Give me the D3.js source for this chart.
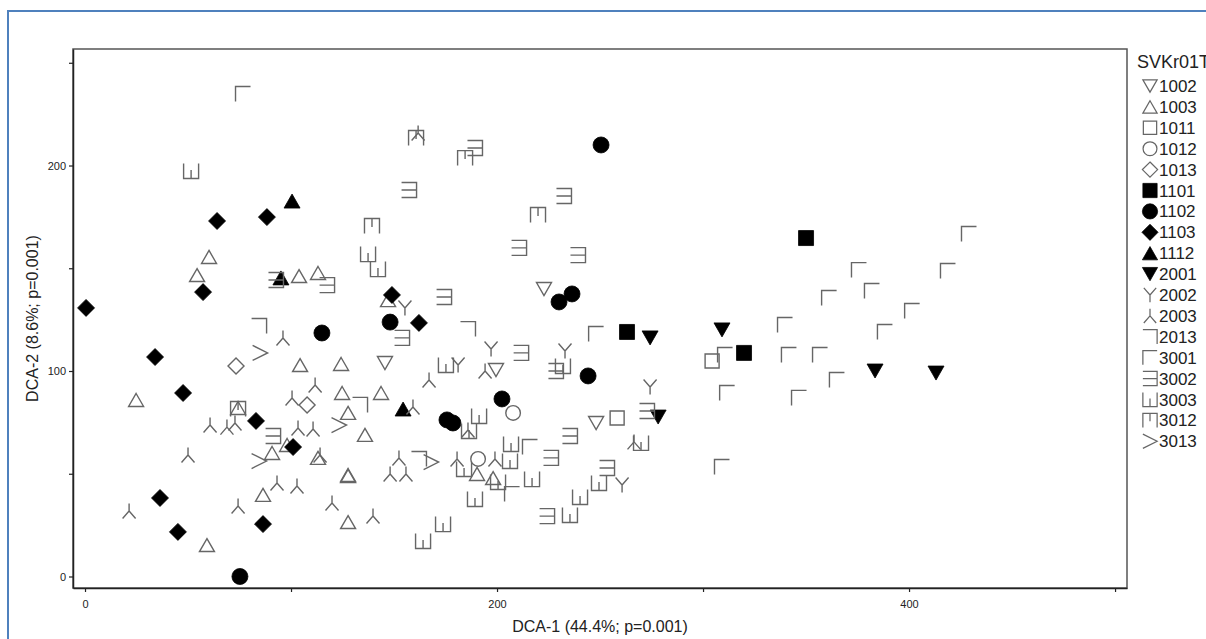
<!DOCTYPE html>
<html>
<head>
<meta charset="utf-8">
<script src="https://cdn.jsdelivr.net/npm/d3@7"></script>
<style>
  body { margin: 0; background: #fff; }
  svg { display: block; font-family: "Liberation Sans", Arial, sans-serif; }
</style>
</head>
<body>
<div id="chart"></div>
<script>
// group codes, in legend order
const groups = ["1002","1003","1011","1012","1013","1101","1102","1103","1112",
                "2001","2002","2003","2013","3001","3002","3003","3012","3013"];

// site scores [DCA-1, DCA-2] for each group
const g1002 = [[222.8,139.9],[145.6,103.9],[199.5,100.5],[248.1,74.7]];
const g1003 = [[60.2,155.5],[54.4,146.7],[103.9,146.2],[113.1,147.7],[147.1,134.5],[104.4,102.9],
               [124.3,103.4],[24.8,85.9],[124.8,89.3],[143.7,89.3],[74.3,82.0],[127.7,79.6],
               [135.9,68.9],[90.8,60.1],[98.1,64.0],[113.1,57.7],[190.3,49.9],[198.1,47.9],
               [127.7,49.4],[127.7,48.9],[86.4,39.7],[59.2,15.3],[127.7,26.5]];
const g1011 = [[258.3,77.1],[304.4,104.9]];
const g1012 = [[207.8,79.6],[190.8,57.2]];
const g1013 = [[73.3,102.4],[107.8,83.5]];
const g1101 = [[350.0,164.7],[263.1,119.0],[319.9,108.8]];
const g1102 = [[250.5,210.0],[148.1,123.8],[230.1,133.6],[236.4,137.5],[244.2,97.6],[202.4,86.4],
               [175.7,76.2],[178.6,74.7],[75.2,0],[115.0,118.5]];
const g1103 = [[64.1,173.0],[88.3,174.9],[57.3,138.4],[0.5,130.7],[34.0,106.8],[149.0,137.0],
               [162.1,123.4],[47.6,89.3],[83.0,75.7],[101.0,63.0],[36.4,38.2],[86.4,25.5],[45.1,21.7]];
const g1112 = [[100.5,182.7],[95.1,145.3],[154.4,81.5]];
const g2001 = [[274.3,116.1],[309.2,120.0],[278.2,77.6],[383.5,100.0],[413.1,99.0]];
const g2002 = [[155.3,130.7],[197.1,110.7],[233.0,109.7],[181.1,102.9],[274.3,92.2],[260.7,44.5]];
const g2003 = [[161.7,215.8],[96.1,116.1],[111.7,93.2],[100.5,86.9],[194.2,100.0],[167.0,95.6],
               [60.7,73.7],[68.9,72.7],[72.8,74.7],[103.4,72.3],[110.7,71.8],[50.0,59.1],
               [114.1,59.1],[93.2,45.5],[102.9,44.0],[21.4,31.9],[74.3,34.3],[119.9,35.8],
               [152.4,57.7],[148.1,49.9],[155.8,49.9],[180.6,57.2],[185.9,71.3],[199.0,57.2],
               [139.8,29.4],[266.5,65.5],[159.2,82.5]];
const g2013 = [[84.5,121.9],[185.9,120.4],[133.5,83.5],[162.1,57.2]];
const g3001 = [[76.7,234.8],[248.1,118.0],[311.7,89.3],[346.6,86.9],[309.2,53.3],[429.1,166.7],
               [375.7,149.1],[418.9,148.7],[382.0,138.9],[361.2,135.5],[401.5,129.2],[339.8,122.4],
               [388.3,119.0],[310.7,107.8],[341.7,107.8],[356.8,107.8],[365.0,95.6],[216.0,63.0],
               [207.3,40.1]];
const g3002 = [[189.3,208.5],[157.3,188.1],[232.5,185.2],[210.7,159.9],[239.3,156.4],[174.3,136.0],
               [153.9,116.1],[117.5,141.8],[92.7,144.3],[211.7,108.8],[228.6,100.0],[91.3,68.4],
               [272.8,80.5],[235.4,68.4],[226.2,57.7],[253.4,52.8],[224.3,29.4]];
const g3003 = [[51.5,197.3],[137.4,156.9],[142.2,149.6],[175.2,102.9],[232.0,102.4],[269.9,65.0],
               [191.3,78.1],[186.4,70.8],[206.8,64.5],[184.0,52.3],[206.3,56.2],[200.5,46.0],
               [217.0,47.4],[189.3,37.7],[249.5,45.5],[240.3,38.7],[235.4,29.9],[173.8,25.5],[164.1,17.3]];
const g3012 = [[160.7,213.4],[184.5,203.6],[219.9,175.9],[139.3,170.6],[74.3,81.5]];
const g3013 = [[85.0,108.8],[84.5,56.2],[123.3,73.7],[168.0,55.7]];

const seriesValues = [g1002,g1003,g1011,g1012,g1013,g1101,g1102,g1103,g1112,
                      g2001,g2002,g2003,g2013,g3001,g3002,g3003,g3012,g3013];

const xTicks = [0,100,200,300,400,500];
const yTicks = [0,50,100,150,200,250];
const xLabelled = [0,200,400];
const yLabelled = [0,100,200];
const xTitle = "DCA-1 (44.4%; p=0.001)";
const yTitle = "DCA-2 (8.6%; p=0.001)";
const legendTitle = "SVKr01T";

// marker shapes (h = half size)
const h = 7.5;
const shapes = {
  "1002": {d: `M${-h},${-6.5}L${h},${-6.5}L0,6.5Z`, fill: false},
  "1003": {d: `M0,${-6.5}L${h},6.5L${-h},6.5Z`, fill: false},
  "1011": {d: `M-7,-7H7V7H-7Z`, fill: false},
  "1012": {d: d3.symbol(d3.symbolCircle, Math.PI*7.3*7.3)(), fill: false},
  "1013": {d: `M0,-8L8,0L0,8L-8,0Z`, fill: false},
  "1101": {d: `M-7.5,-7.5H7.5V7.5H-7.5Z`, fill: true},
  "1102": {d: d3.symbol(d3.symbolCircle, Math.PI*8*8)(), fill: true},
  "1103": {d: `M0,-8.5L8.5,0L0,8.5L-8.5,0Z`, fill: true},
  "1112": {d: `M0,-7L8,7L-8,7Z`, fill: true},
  "2001": {d: `M-8,-7L8,-7L0,7Z`, fill: true},
  "2002": {d: `M0,0L-6.5,${-h}M0,0L6.5,${-h}M0,0L0,${h}`, fill: false},
  "2003": {d: `M0,0L0,${-h}M0,0L-6.5,${h}M0,0L6.5,${h}`, fill: false},
  "2013": {d: `M${-h},${-h}L${h},${-h}L${h},${h}`, fill: false},
  "3001": {d: `M${-h},${h}L${-h},${-h}L${h},${-h}`, fill: false},
  "3002": {d: `M${-h},${-h}L${h},${-h}L${h},${h}L${-h},${h}M${-h},0L${h},0`, fill: false},
  "3003": {d: `M${-h},${-h}L${-h},${h}L${h},${h}L${h},${-h}M0,${h}L0,-1`, fill: false},
  "3012": {d: `M${-h},${h}L${-h},${-h}L${h},${-h}L${h},${h}M0,${-h}L0,1`, fill: false},
  "3013": {d: `M${-h},${-h}L${h},0L${-h},${h}`, fill: false}
};

const W = 1206, H = 639;
const frame = {left: 73, top: 49, right: 1127, bottom: 588};

const svg = d3.select("#chart").append("svg")
    .attr("width", W).attr("height", H);

// outer blue border (only top and left edges are inside the picture)
svg.append("rect")
    .attr("x", 8).attr("y", 11)
    .attr("width", W + 20).attr("height", H + 20)
    .attr("fill", "none").attr("stroke", "#4f81bd").attr("stroke-width", 2);

const x = d3.scaleLinear().domain([-5.83, 505.8]).range([frame.left, frame.right]);
const y = d3.scaleLinear().domain([-5.6, 256.7]).range([frame.bottom, frame.top]);

// plot frame
svg.append("rect")
    .attr("x", frame.left).attr("y", frame.top)
    .attr("width", frame.right - frame.left).attr("height", frame.bottom - frame.top)
    .attr("fill", "none").attr("stroke", "#555").attr("stroke-width", 1.5);

// axes
const xAxis = svg.append("g")
    .attr("transform", `translate(0,${frame.bottom})`)
    .call(d3.axisBottom(x).tickValues(xTicks).tickSize(4).tickSizeOuter(0).tickPadding(8)
      .tickFormat(d => xLabelled.includes(d) ? d : ""));
const yAxis = svg.append("g")
    .attr("transform", `translate(${frame.left},0)`)
    .call(d3.axisLeft(y).tickValues(yTicks).tickSize(4).tickSizeOuter(0).tickPadding(3)
      .tickFormat(d => yLabelled.includes(d) ? d : ""));
[xAxis, yAxis].forEach(a => {
  a.select(".domain").attr("stroke", "#222").attr("stroke-width", 1.5);
  a.selectAll(".tick line").attr("stroke", "#222").attr("stroke-width", 1.2);
  a.selectAll(".tick text").attr("font-size", 11).attr("fill", "#222")
    .attr("font-family", "Liberation Sans, Arial, sans-serif");
});

// axis titles
svg.append("text")
    .attr("x", (frame.left + frame.right) / 2).attr("y", 632)
    .attr("text-anchor", "middle").attr("font-size", 16).attr("fill", "#222")
    .text(xTitle);
svg.append("text")
    .attr("transform", `translate(38,${(frame.top + frame.bottom) / 2}) rotate(-90)`)
    .attr("text-anchor", "middle").attr("font-size", 16).attr("fill", "#222")
    .text(yTitle);

// points
const pts = svg.append("g");
groups.forEach((g, i) => {
  const s = shapes[g];
  pts.selectAll(null)
    .data(seriesValues[i])
    .join("path")
      .attr("transform", d => `translate(${x(d[0])},${y(d[1])})`)
      .attr("d", s.d)
      .attr("fill", s.fill ? "#000" : "none")
      .attr("stroke", s.fill ? "#000" : "#666")
      .attr("stroke-width", s.fill ? 0.8 : 1.4);
});

// legend (runs off the right edge, as in the original export)
const leg = svg.append("g").attr("transform", "translate(1137,0)");
leg.append("text").attr("x", 0).attr("y", 68)
    .attr("font-size", 18).attr("fill", "#222").text(legendTitle);
groups.forEach((g, i) => {
  const s = shapes[g];
  const cy = 86 + i * 20.9;
  leg.append("path")
      .attr("transform", `translate(13,${cy}) scale(0.95)`)
      .attr("d", s.d)
      .attr("fill", s.fill ? "#000" : "none")
      .attr("stroke", s.fill ? "#000" : "#666")
      .attr("stroke-width", s.fill ? 0.8 : 1.3);
  leg.append("text").attr("x", 22).attr("y", cy + 6)
      .attr("font-size", 17).attr("fill", "#222").text(g);
});
</script>
</body>
</html>
